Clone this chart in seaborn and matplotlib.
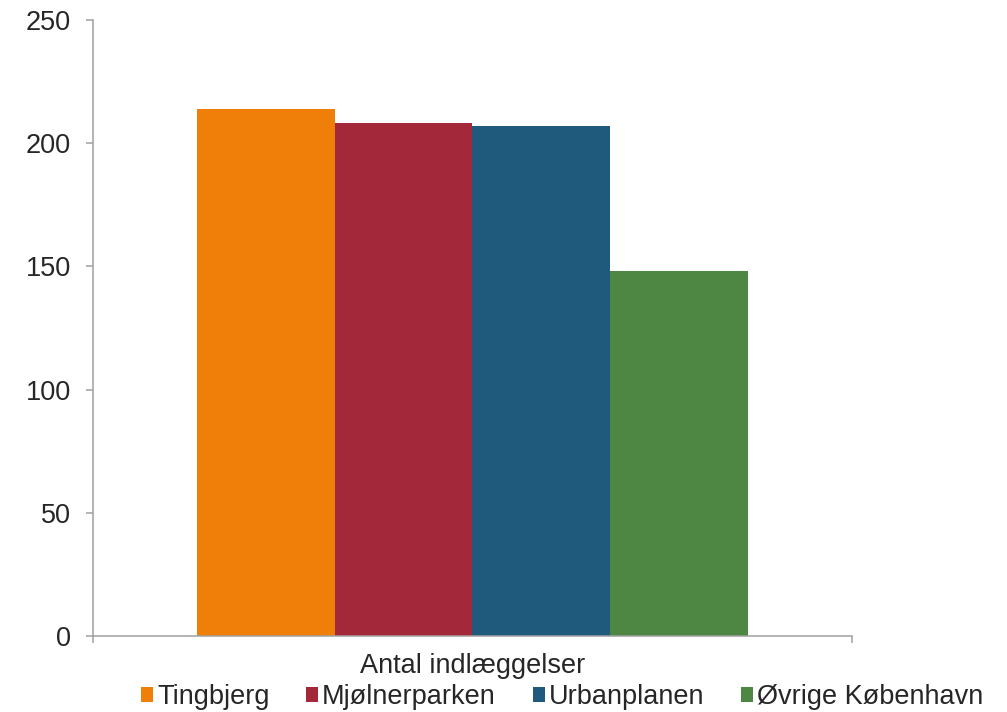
import pandas as pd
import numpy as np
import seaborn as sns
import matplotlib.pyplot as plt
from matplotlib.patches import Patch

category = "Antal indlæggelser"
areas = ["Tingbjerg", "Mjølnerparken", "Urbanplanen", "Øvrige København"]
values = [214, 208, 207, 148]
colors = ["#F07F09", "#A3293A", "#1F5A7D", "#4E8744"]
yticks = [0, 50, 100, 150, 200, 250]

sns.set_style("white")
plt.rcParams['font.family'] = ['Liberation Sans', 'DejaVu Sans']
fs = 19.5

df = pd.DataFrame({"kategori": [category] * len(areas), "omraade": areas, "antal": values})

fig = plt.figure(figsize=(10.07, 7.12), dpi=100)
ax = fig.add_axes([0.0924, 0.1067, 0.7535, 0.8652])

sns.barplot(data=df, x="kategori", y="antal", hue="omraade", hue_order=areas,
            palette=colors, width=0.8, gap=0, saturation=1, legend=False,
            linewidth=0, ax=ax)

ax.set_ylim(0, 250)
ax.set_xlim(-0.551, 0.551)
ax.set_yticks(yticks)
ax.set_xlabel("")
ax.set_ylabel("")

for s in ["top", "right"]:
    ax.spines[s].set_visible(False)
for s in ["left", "bottom"]:
    ax.spines[s].set_color("#A0A0A0")
    ax.spines[s].set_linewidth(1.1)

ax.tick_params(axis="y", direction="out", length=5, width=1.1, color="#A0A0A0",
               labelsize=fs, pad=11, left=True)
ax.tick_params(axis="x", which="major", length=0, labelsize=fs, pad=12)
ax.set_xticks([-0.551, 0.551], minor=True)
ax.tick_params(axis="x", which="minor", direction="out", length=5, width=1.1,
               color="#A0A0A0", bottom=True)

handles = [Patch(facecolor=c, edgecolor="none", label=a) for a, c in zip(areas, colors)]
ax.legend(handles=handles, loc="center", bbox_to_anchor=(0.618, -0.099), ncol=4,
          frameon=False, fontsize=fs, handlelength=0.45, handleheight=0.45,
          handletextpad=0.15, columnspacing=1.35, borderaxespad=0)

fig.savefig("out.png", dpi=100)
